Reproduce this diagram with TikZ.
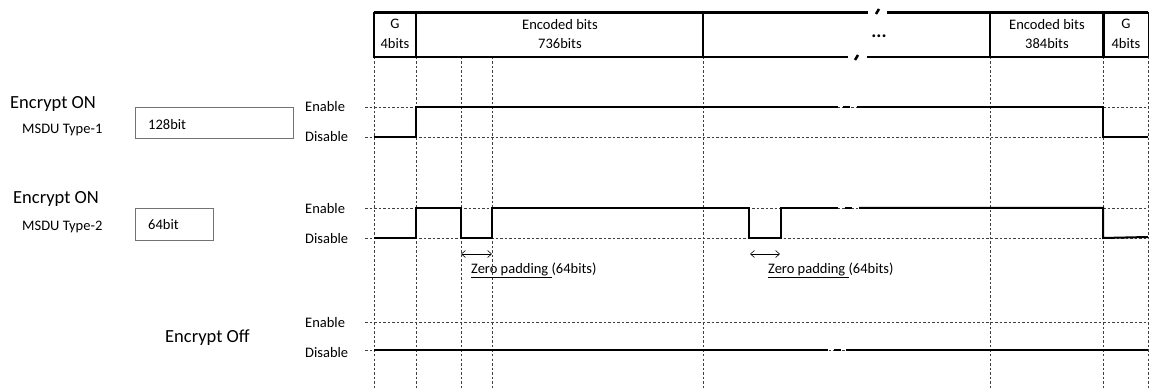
\documentclass[tikz,border=0pt]{standalone}
\usepackage{fontspec}
\setmainfont{Carlito}
\usetikzlibrary{arrows.meta}
\begin{document}
\begin{tikzpicture}[x=1pt,y=-1pt,
  grid/.style={line width=0.7pt,black!75,dash pattern=on 2.5pt off 2pt},
  sig/.style={line width=2pt,line join=miter},
  frame/.style={line width=2.5pt},
  lbl/.style={font=\fontsize{14.5}{17}\selectfont,inner sep=0pt,anchor=west},
  big/.style={font=\fontsize{18.5}{21}\selectfont,inner sep=0pt,anchor=west},
  hdr/.style={font=\fontsize{14.5}{19.5}\selectfont,inner sep=0pt,align=center},
  valbox/.style={draw=black!55,line width=1pt},
  padarrow/.style={{Straight Barb[length=4pt,width=7pt]}-{Straight Barb[length=4pt,width=7pt]},line width=0.6pt}
]
\useasboundingbox (0,0) rectangle (1152,390);

% vertical dashed grid lines
\foreach \x in {374,416,461,492,703,990,1103,1148}
  \draw[grid] (\x,57) -- (\x,390);
% horizontal dashed grid lines
\foreach \y in {107,137,208,238,322,350}
  \draw[grid] (365,\y) -- (1148,\y);

% header frame
\draw[frame] (374,12.5) -- (868,12.5);
\draw[frame] (887,12.5) -- (1148,12.5);
\draw[frame] (848,57) -- (374,57) -- (374,12.5);
\draw[frame] (867,57) -- (1148,57);
\draw[line width=1pt] (1148,12.5) -- (1148,57);
\draw[frame] (416,12.5) -- (416,57);
\draw[frame] (703,12.5) -- (703,57);
\draw[line width=2pt] (990,12.5) -- (990,57);
\draw[line width=3pt] (1103,12.5) -- (1103,57);
\draw[line width=2.5pt] (876,14) -- (879,9);
\draw[line width=2.5pt] (855,60) -- (858,55);

\node[hdr] (g1) at (395,34) {G\\4bits};
\node[hdr] (e1) at (560,34) {Encoded bits\\736bits};
\node[hdr,font=\fontsize{19}{21}\selectfont\bfseries] (dots) at (879,36) {...};
\node[hdr] (e2) at (1047,34) {Encoded bits\\384bits};
\node[hdr] (g2) at (1126,34) {G\\4bits};

% left labels
\node[big] (on1) at (10,104) {Encrypt ON};
\node[lbl] (t1) at (22,130) {MSDU Type-1};
\draw[valbox] (135,108) rectangle (293,139);
\node[lbl] (v1) at (148,125) {128bit};

\node[big] (on2) at (13,199) {Encrypt ON};
\node[lbl] (t2) at (22,227) {MSDU Type-2};
\draw[valbox] (135,209) rectangle (213,241);
\node[lbl] (v2) at (148,225) {64bit};

\node[big] (off) at (165,338) {Encrypt Off};

% level labels
\foreach \y/\t in {107/Enable,137/Disable,209/Enable,239/Disable,323/Enable,353/Disable}
  \node[lbl] at (305,\y) {\t};

% row 1 signal
\draw[sig] (374,137) -- (416,137) -- (416,107) -- (838,107);
\draw[sig] (843,107) -- (850,107);
\draw[sig] (857,107) -- (1103,107) -- (1103,137) -- (1148,137);

% row 2 signal
\draw[sig] (374,238) -- (416,238) -- (416,208) -- (461,208) -- (461,238) -- (492,238) -- (492,208)
  -- (749,208) -- (749,238) -- (781,238) -- (781,208) -- (838,208);
\draw[sig] (845,208) -- (852,208);
\draw[sig] (859,208) -- (1103,208) -- (1103,238) -- (1148,237);

% row 3 signal
\draw[sig] (374,350) -- (828,350);
\draw[sig] (834,350) -- (841,350);
\draw[sig] (846,350) -- (1148,350);

% zero padding
\coordinate (pa1) at (461,254);
\coordinate (pb1) at (492,254);
\draw[padarrow] (pa1) -- (pb1);
\node[lbl] (zp1) at (471,270) {\underline{Zero padding }(64bits)};
\coordinate (pa2) at (750,254);
\coordinate (pb2) at (780,254);
\draw[padarrow] (pa2) -- (pb2);
\node[lbl] (zp2) at (768,270) {\underline{Zero padding }(64bits)};
\end{tikzpicture}
\end{document}
